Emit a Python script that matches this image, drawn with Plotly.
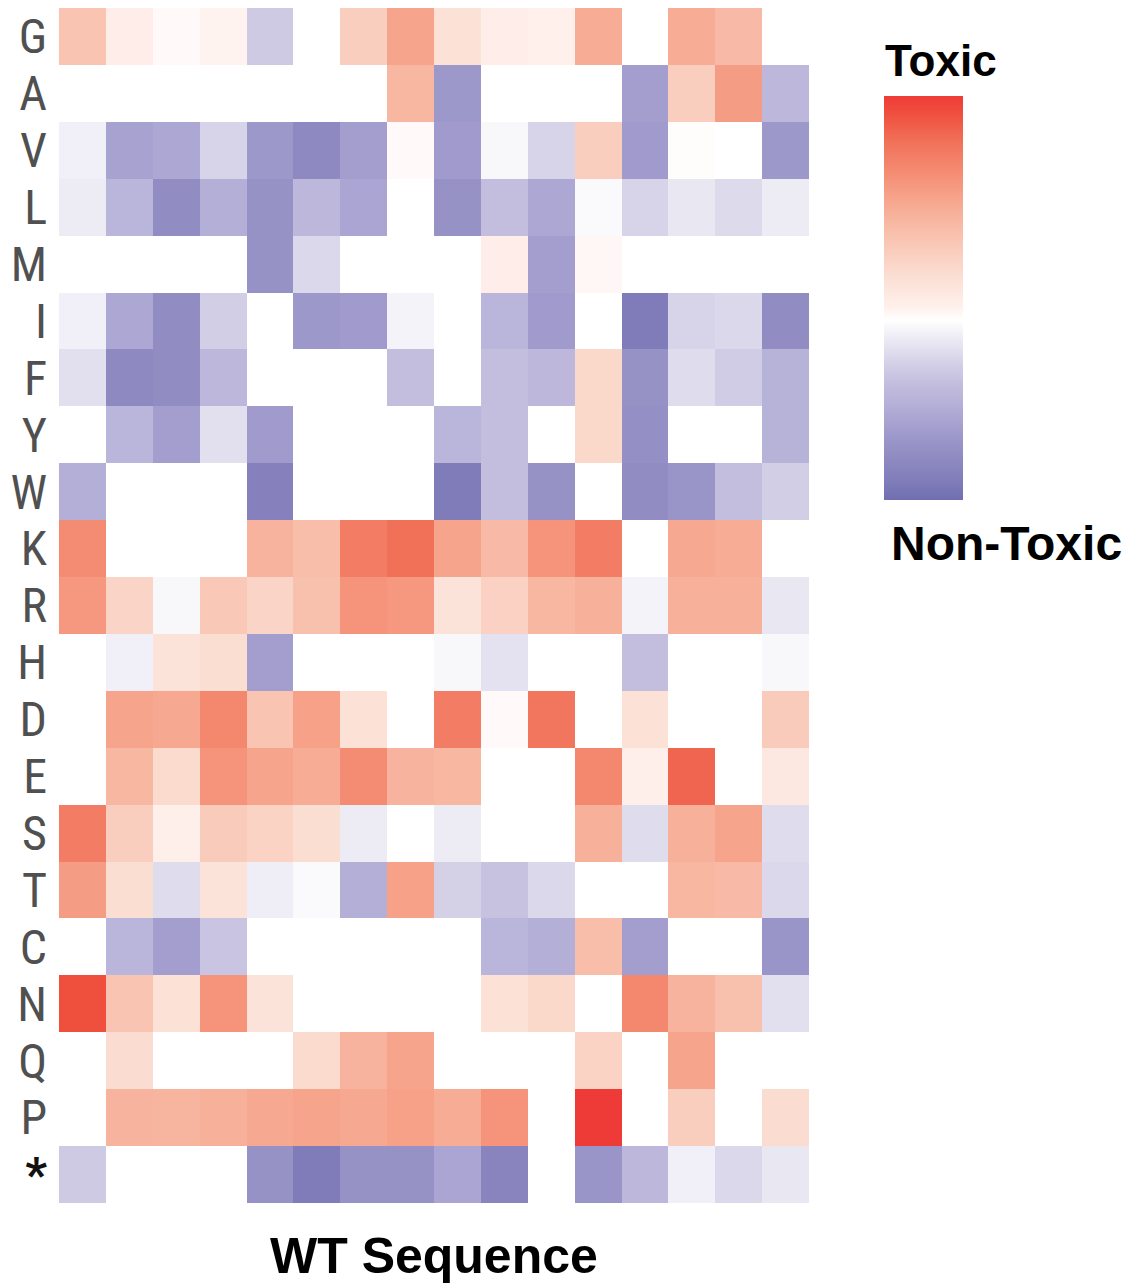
import plotly.graph_objects as go

# Row labels (amino acids), top to bottom
residues = ["G", "A", "V", "L", "M", "I", "F", "Y", "W", "K", "R",
            "H", "D", "E", "S", "T", "C", "N", "Q", "P", "*"]
positions = list(range(1, 17))

# Toxicity scores per residue (positive = toxic, negative = non-toxic, None = no data)
G = [1.8, 0.4, 0.1, 0.25, -1.1, None, 1.5, 2.7, 0.9, 0.4, 0.3, 2.5, None, 2.5, 2.1, None]
A = [None, None, None, None, None, None, None, 2.2, -2.6, None, None, None, -2.4, 1.5, 2.9, -1.6]
V = [-0.3, -2.3, -2.1, -0.9, -2.6, -3.1, -2.4, 0.1, -2.5, -0.15, -0.9, 1.5, -2.5, 0.05, None, -2.6]
L = [-0.4, -1.7, -3.0, -1.9, -2.8, -1.6, -2.2, None, -2.8, -1.4, -2.1, -0.1, -0.9, -0.5, -0.75, -0.4]
M = [None, None, None, None, -2.8, -0.8, None, None, None, 0.4, -2.4, 0.15, None, None, None, None]
I = [-0.3, -2.1, -3.0, -1.0, None, -2.6, -2.5, -0.25, None, -1.7, -2.5, None, -3.6, -0.9, -0.8, -3.0]
F = [-0.65, -3.1, -3.0, -1.6, None, None, None, -1.4, None, -1.4, -1.6, 1.2, -2.8, -0.7, -1.05, -1.8]
Y = [None, -1.7, -2.4, -0.65, -2.5, None, None, None, -1.7, -1.4, None, 1.2, -2.9, None, None, -1.8]
W = [-1.9, None, None, None, -3.4, None, None, None, -3.6, -1.4, -2.8, None, -3.0, -2.7, -1.4, -1.0]
K = [3.3, None, None, None, 2.3, 2.0, 3.7, 4.0, 2.7, 2.1, 3.1, 3.7, None, 2.6, 2.5, None]
R = [3.0, 1.3, -0.15, 1.7, 1.3, 1.9, 3.1, 3.0, 0.8, 1.4, 2.2, 2.4, -0.25, 2.4, 2.4, -0.5]
H = [None, -0.3, 0.8, 1.0, -2.4, None, None, None, -0.15, -0.6, None, None, -1.4, None, None, -0.15]
D = [None, 2.7, 2.6, 3.4, 1.8, 2.8, 0.9, None, 3.7, 0.1, 3.85, None, 0.9, None, None, 1.6]
E = [None, 2.2, 1.1, 3.1, 2.7, 2.5, 3.3, 2.3, 2.2, None, None, 3.4, 0.35, 4.2, None, 0.6]
S = [3.7, 1.5, 0.35, 1.6, 1.35, 1.0, -0.4, None, -0.4, None, None, 2.4, -0.7, 2.4, 2.7, -0.7]
T = [2.9, 1.0, -0.7, 0.8, -0.35, -0.1, -1.9, 2.8, -0.95, -1.3, -0.8, None, None, 2.2, 2.1, -0.8]
C = [None, -1.7, -2.4, -1.25, None, None, None, None, None, -1.7, -1.9, 2.0, -2.4, None, None, -2.7]
N = [4.6, 1.8, 0.9, 3.1, 0.8, None, None, None, None, 0.9, 1.2, None, 3.4, 2.3, 1.9, -0.65]
Q = [None, 1.05, None, None, None, 1.1, 2.3, 2.7, None, None, None, 1.35, None, 2.7, None, None]
P = [None, 2.3, 2.25, 2.4, 2.6, 2.7, 2.6, 2.8, 2.5, 3.1, None, 5.0, None, 1.5, None, 1.05]
STOP = [-1.1, None, None, None, -2.8, -3.6, -2.8, -2.8, -2.2, -3.3, None, -2.7, -1.6, -0.3, -0.8, -0.5]

z = [G, A, V, L, M, I, F, Y, W, K, R, H, D, E, S, T, C, N, Q, P, STOP]

zmin, zmax = -4, 5
colorscale = [
    [0.0, "rgb(112,110,175)"],
    [0.0444, "rgb(128,124,186)"],
    [0.111, "rgb(145,140,194)"],
    [0.1667, "rgb(160,155,204)"],
    [0.2333, "rgb(180,175,215)"],
    [0.2889, "rgb(195,190,222)"],
    [0.3333, "rgb(210,206,230)"],
    [0.3778, "rgb(228,226,240)"],
    [0.4222, "rgb(245,245,250)"],
    [0.4444, "rgb(255,255,255)"],
    [0.4778, "rgb(255,240,236)"],
    [0.5556, "rgb(251,222,210)"],
    [0.6667, "rgb(248,190,170)"],
    [0.7444, "rgb(246,165,140)"],
    [0.8111, "rgb(244,140,115)"],
    [0.8889, "rgb(241,112,88)"],
    [0.9556, "rgb(239,80,62)"],
    [1.0, "rgb(239,59,56)"],
]

# The page body adds an 8px offset; figure coordinates = screen coordinates - 8
OFF = 8
W_PX, H_PX = 1130 - OFF, 1286 - OFF
L_M = 59 - OFF
T_M = 8 - OFF
R_M = W_PX - (809 - OFF)
B_M = H_PX - (1203 - OFF)
plot_w = W_PX - L_M - R_M
plot_h = H_PX - T_M - B_M


def py(screen_y):
    return 1 - (screen_y - OFF - T_M) / plot_h


def pxx(screen_x):
    return (screen_x - OFF - L_M) / plot_w


tick_text = [("<span style='color:#111111'><b>*</b></span>" if r == "*" else r) for r in residues]

fig = go.Figure(go.Heatmap(
    z=z, x=positions, y=residues,
    colorscale=colorscale, zmin=zmin, zmax=zmax,
    xgap=0, ygap=0,
    colorbar=dict(
        thickness=79, thicknessmode="pixels",
        len=404, lenmode="pixels",
        x=pxx(884), xanchor="left", xpad=0,
        y=py(298), yanchor="middle", ypad=0,
        outlinewidth=0, ticks="", showticklabels=False,
    ),
))

bold = "Liberation Sans, Arial, Helvetica, sans-serif"

fig.update_layout(
    width=W_PX, height=H_PX,
    margin=dict(l=L_M, r=R_M, t=T_M, b=B_M, autoexpand=False),
    plot_bgcolor="white", paper_bgcolor="white",
    xaxis=dict(showticklabels=False, ticks="", showgrid=False, zeroline=False,
               showline=False, range=[0.5, 16.5], automargin=False),
    yaxis=dict(autorange="reversed", showgrid=False, zeroline=False, showline=False,
               ticks="", ticklabelstandoff=11, automargin=False,
               tickmode="array", tickvals=residues, ticktext=tick_text,
               tickfont=dict(family="Liberation Sans Narrow, Roboto Condensed, Roboto, sans-serif",
                             size=48, color="#505050")),
    annotations=[
        dict(text="<b>Toxic</b>", x=pxx(883), y=py(60), xref="paper", yref="paper",
             xanchor="left", yanchor="middle", showarrow=False,
             font=dict(family=bold, size=44, color="black")),
        dict(text="<b>Non-Toxic</b>", x=pxx(889), y=py(543), xref="paper", yref="paper",
             xanchor="left", yanchor="middle", showarrow=False,
             font=dict(family=bold, size=48, color="black")),
        dict(text="<b>WT Sequence</b>", x=pxx(434), y=py(1256), xref="paper", yref="paper",
             xanchor="center", yanchor="middle", showarrow=False,
             font=dict(family=bold, size=50, color="black")),
    ],
)

fig.write_html("out.html")
